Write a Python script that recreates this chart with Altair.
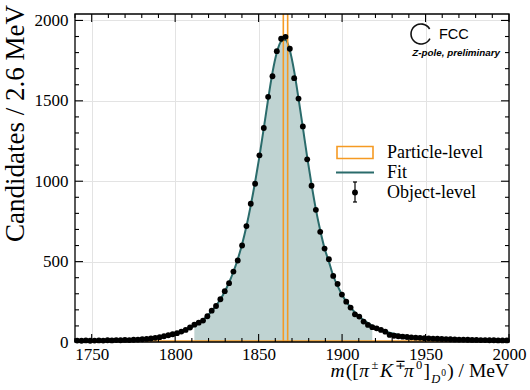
import altair as alt
import pandas as pd

# ---------------- data ----------------
bin_start = 1740.0
bin_width = 2.6

object_counts = [9, 8, 10, 8, 9, 10, 9, 11, 10, 12,
                 11, 13, 12, 14, 15, 17, 19, 22, 26, 30,
                 36, 42, 48, 55, 65, 75, 90, 108, 120, 133,
                 160, 195, 224, 266, 316, 366, 438, 507, 600, 721,
                 860, 984, 1161, 1331, 1525, 1653, 1809, 1886, 1898, 1824,
                 1641, 1514, 1341, 1136, 972, 822, 685, 581, 515, 411,
                 361, 295, 251, 214, 172, 158, 127, 106, 92, 85,
                 75, 64, 44, 39, 36, 33, 31, 29, 27, 26,
                 24, 23, 21, 20, 19, 18, 17, 16, 15, 15,
                 14, 13, 13, 12, 12, 11, 11, 10, 10, 10]

fit_values = [6, 6, 7, 7, 7, 8, 8, 9, 9, 10,
              10, 11, 12, 13, 14, 16, 18, 20, 23, 27,
              31, 37, 44, 52, 62, 73, 86, 100, 117, 138,
              163, 192, 226, 266, 313, 370, 437, 515, 608, 720,
              850, 995, 1155, 1330, 1510, 1675, 1800, 1870, 1878, 1815,
              1685, 1515, 1335, 1150, 980, 825, 695, 583, 500, 412,
              349, 296, 252, 215, 184, 158, 136, 117, 101, 88,
              76, 66, 58, 51, 45, 40, 36, 32, 29, 26,
              24, 22, 20, 18, 17, 16, 15, 14, 13, 12,
              12, 11, 11, 10, 10, 9, 9, 9, 8, 8]

fill_range = [1811.0, 1919.0]          # shaded region under the fit

particle_bin_lo = [1864.8]
particle_bin_hi = [1867.4]
particle_counts = [60000]
particle_range = [1781.6, 2000.0]      # extent of the (empty) particle-level histogram

x_domain = [1740, 2000]
y_domain = [0, 2040]
x_major = [1750, 1800, 1850, 1900, 1950, 2000]
x_minor = [v for v in range(1740, 2001, 10) if v % 50 != 0]
y_major = [0, 500, 1000, 1500, 2000]
y_minor = [v for v in range(0, 2001, 100) if v % 500 != 0]

legend_labels = ["Particle-level", "Fit", "Object-level"]
y_title = "Candidates / 2.6 MeV"

assert len(object_counts) == 100 and len(fit_values) == 100

centers = [bin_start + bin_width * (i + 0.5) for i in range(len(object_counts))]
df = pd.DataFrame({"mass": centers, "counts": object_counts, "fit": fit_values})

# ---------------- style ----------------
W, H = 434, 328
ORANGE = "#f59a23"
TEAL = "#2a6b6b"
FILL = "#bfd3d2"
SERIF = "Liberation Serif"
SANS = "Liberation Sans"

xs = alt.Scale(domain=x_domain, nice=False, zero=False)
ys = alt.Scale(domain=y_domain, nice=False, zero=False)
xax = alt.Axis(values=x_major, title=None, grid=True, gridColor="#e3e3e3", gridWidth=1,
               ticks=False, domain=False, labelFont=SERIF, labelFontSize=17,
               labelColor="black", labelPadding=4, format="d", labelOverlap=False,
               labelFlush=False)
yax = alt.Axis(values=y_major, title=None, grid=True, gridColor="#e3e3e3", gridWidth=1,
               ticks=False, domain=False, labelFont=SERIF, labelFontSize=17,
               labelColor="black", labelPadding=7, format="d", labelOverlap=False,
               labelFlush=False)

base = alt.Chart(df)

area = base.transform_filter(
    f"datum.mass >= {fill_range[0]} && datum.mass <= {fill_range[1]}"
).mark_area(color=FILL, interpolate="monotone").encode(
    x=alt.X("mass:Q", scale=xs, axis=xax),
    y=alt.Y("fit:Q", scale=ys, axis=yax),
)

fit_line = base.mark_line(color=TEAL, strokeWidth=2, interpolate="monotone", clip=True).encode(
    x=alt.X("mass:Q", scale=xs, axis=xax),
    y=alt.Y("fit:Q", scale=ys, axis=yax),
)

pdf = pd.DataFrame({"lo": particle_bin_lo, "hi": particle_bin_hi, "n": particle_counts})
particle = alt.Chart(pdf).mark_rect(fillOpacity=0, stroke=ORANGE, strokeWidth=1.6, clip=True).encode(
    x=alt.X("lo:Q", scale=xs, axis=xax),
    x2="hi:Q",
    y=alt.Y("n:Q", scale=ys, axis=yax),
    y2=alt.datum(0),
)

prange = pd.DataFrame({"a": [particle_range[0]], "b": [particle_range[1]]})
particle_base = alt.Chart(prange).mark_rule(color=ORANGE, strokeWidth=1.6).encode(
    x=alt.X("a:Q", scale=xs, axis=xax),
    x2="b:Q",
    y=alt.value(H - 1),
)

dots = base.mark_circle(color="black", size=34, opacity=1).encode(
    x=alt.X("mass:Q", scale=xs, axis=xax),
    y=alt.Y("counts:Q", scale=ys, axis=yax),
)

# inward ticks on all four sides
def xticks(vals, length):
    d = alt.Chart(pd.DataFrame({"v": vals}))
    bot = d.mark_rule(color="black", strokeWidth=1.1).encode(
        x=alt.X("v:Q", scale=xs, axis=xax), y=alt.value(H), y2=alt.value(H - length))
    top = d.mark_rule(color="black", strokeWidth=1.1).encode(
        x=alt.X("v:Q", scale=xs, axis=xax), y=alt.value(0), y2=alt.value(length))
    return [bot, top]

def yticks(vals, length):
    d = alt.Chart(pd.DataFrame({"v": vals}))
    left = d.mark_rule(color="black", strokeWidth=1.1).encode(
        y=alt.Y("v:Q", scale=ys, axis=yax), x=alt.value(0), x2=alt.value(length))
    right = d.mark_rule(color="black", strokeWidth=1.1).encode(
        y=alt.Y("v:Q", scale=ys, axis=yax), x=alt.value(W), x2=alt.value(W - length))
    return [left, right]

tick_layers = xticks(x_major, 8) + xticks(x_minor, 4) + yticks(y_major, 8) + yticks(y_minor, 4)

one = pd.DataFrame({"k": [0]})
frame = alt.Chart(one).mark_rect(fillOpacity=0, stroke="black", strokeWidth=1.3).encode(
    x=alt.value(0), x2=alt.value(W), y=alt.value(0), y2=alt.value(H))

# ---------------- legend ----------------
leg = []
leg.append(alt.Chart(one).mark_rect(fillOpacity=0, stroke=ORANGE, strokeWidth=1.6).encode(
    x=alt.value(262), x2=alt.value(298), y=alt.value(132.5), y2=alt.value(144.5)))
leg.append(alt.Chart(one).mark_rule(color=TEAL, strokeWidth=2).encode(
    x=alt.value(261), x2=alt.value(299), y=alt.value(158.5)))
leg.append(alt.Chart(one).mark_rule(color="black", strokeWidth=1.2).encode(
    x=alt.value(280), y=alt.value(168), y2=alt.value(188)))
leg.append(alt.Chart(one).mark_rule(color="black", strokeWidth=1.2).encode(
    x=alt.value(278), x2=alt.value(282), y=alt.value(168)))
leg.append(alt.Chart(one).mark_rule(color="black", strokeWidth=1.2).encode(
    x=alt.value(278), x2=alt.value(282), y=alt.value(188)))
leg.append(alt.Chart(one).mark_circle(color="black", size=34, opacity=1).encode(
    x=alt.value(280), y=alt.value(178.5)))
for lab, yy in zip(legend_labels, [139, 159, 178.5]):
    leg.append(alt.Chart(pd.DataFrame({"t": [lab]})).mark_text(
        align="left", baseline="middle", font=SERIF, fontSize=18, color="black").encode(
        text="t:N", x=alt.value(312), y=alt.value(yy)))

# ---------------- FCC logo ----------------
logo = [
    alt.Chart(one).mark_arc(color="#111111", innerRadius=9.2, outerRadius=10.8,
                            theta=2.04, theta2=7.33).encode(x=alt.value(346), y=alt.value(20)),
    alt.Chart(pd.DataFrame({"t": ["FCC"]})).mark_text(
        align="left", baseline="middle", font=SANS, fontSize=14.5, color="black").encode(
        text="t:N", x=alt.value(364), y=alt.value(20.5)),
    alt.Chart(pd.DataFrame({"t": ["Z-pole, preliminary"]})).mark_text(
        align="right", baseline="middle", font=SANS, fontSize=9.8, fontStyle="italic",
        fontWeight="bold", color="black").encode(
        text="t:N", x=alt.value(425), y=alt.value(39)),
]

# ---------------- axis titles ----------------
ytitle = alt.Chart(pd.DataFrame({"t": [y_title]})).mark_text(
    align="right", baseline="middle", angle=270, font=SERIF, fontSize=27, color="black").encode(
    text="t:N", x=alt.value(-59), y=alt.value(-9))

# x title: m([pi^{+-} K^{-+} pi^0]_{D^0}) / MeV composed of pieces
F1, F2, F3 = 19.5, 12.5, 9.5
pieces = [  # text, size, italic, dy (baseline shift), advance in em
    ("m", F1, True, 0, 0.78),
    ("([", F1, False, 0, 0.70),
    ("π", F1, True, 0, 0.62),
    ("±", F2, False, -8, 0.68),
    ("K", F1, True, 0, 0.80),
    ("∓", F2, False, -8, 0.68),
    ("π", F1, True, 0, 0.62),
    ("0", F2, False, -8, 0.60),
    ("]", F1, False, 0, 0.40),
    ("D", F2, True, 6, 0.80),
    ("0", F3, False, -1, 0.62),
]
tail = ") / MeV"
tail_w = (0.333 + 0.25 + 0.278 + 0.25 + 0.889 + 0.444 + 0.722) * F1
total = sum(s * w for _, s, _, _, w in pieces) + tail_w
x0 = W - total
base_y = 363
xtitle = []
cur = x0
for txt, size, ital, dy, wem in pieces:
    xtitle.append(alt.Chart(pd.DataFrame({"t": [txt]})).mark_text(
        align="left", baseline="alphabetic", font=SERIF, fontSize=size,
        fontStyle="italic" if ital else "normal", color="black").encode(
        text="t:N", x=alt.value(cur), y=alt.value(base_y + dy)))
    cur += size * wem
xtitle.append(alt.Chart(pd.DataFrame({"t": [tail]})).mark_text(
    align="right", baseline="alphabetic", font=SERIF, fontSize=F1, color="black").encode(
    text="t:N", x=alt.value(W), y=alt.value(base_y)))

chart = alt.layer(
    area, fit_line, particle_base, particle, dots, *tick_layers, frame,
    *leg, *logo, ytitle, *xtitle
).properties(
    width=W, height=H,
    autosize=alt.AutoSizeParams(type="none"),
    padding={"left": 75, "top": 14, "right": 21, "bottom": 48},
    background="white",
).configure_view(stroke=None)

chart.save("out.html", embed_options={"renderer": "svg", "actions": False})
